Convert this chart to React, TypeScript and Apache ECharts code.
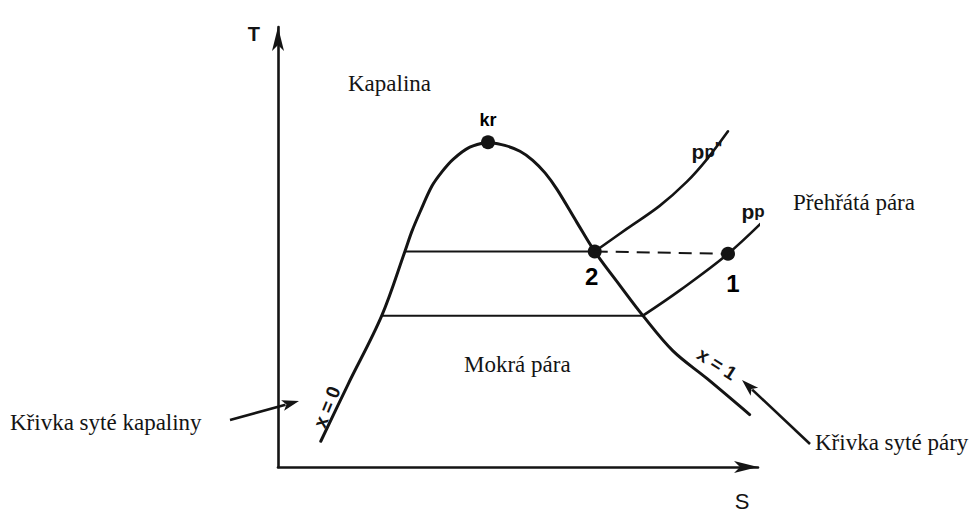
import React, { useEffect, useRef } from "react";
import * as echarts from "echarts";

const INK = "#141414";
const SERIF = '"Liberation Serif", "Times New Roman", serif';
const SANS = '"Liberation Sans", Arial, sans-serif';

// Axis ranges (entropy s, temperature T), arbitrary units
const S_MAX = 97.6;
const T_MAX = 97.4;

// Saturated liquid line (x = 0), from the bottom up to the critical point
const liquidLine: [number, number][] = [
  [8.7, 5.7], [14.2, 18.2], [21.1, 33.5], [25.8, 47.7], [27.2, 52.1],
  [28.9, 56.5], [31.3, 62.2], [33.3, 65.3], [35.6, 68.1], [39.0, 70.8], [42.7, 71.9],
];

// Saturated vapour line (x = 1), from the critical point down
const vapourLine: [number, number][] = [
  [42.7, 71.9], [46.1, 71.2], [49.2, 69.9], [51.8, 67.9], [54.3, 65.1], [56.7, 61.5],
  [60.8, 54.1], [64.4, 47.7], [69.5, 40.2], [74.2, 33.5], [80.3, 25.7], [87.2, 19.6], [95.9, 11.6],
];

// Isobar p_p'' : evaporation inside the dome, then superheating from point 2
const upperWet: [number, number][] = [[25.8, 47.7], [64.4, 47.7]];
const upperSuper: [number, number][] = [
  [64.4, 47.7], [70.9, 52.7], [77.6, 57.8], [83.1, 63.1], [87.2, 68.1], [91.5, 74.3],
];

// Isobar p_p : evaporation inside the dome, then superheating through point 1
const lowerWet: [number, number][] = [[21.1, 33.5], [74.2, 33.5]];
const lowerSuper: [number, number][] = [[74.2, 33.5], [81.7, 39.1], [91.5, 47.2], [100.4, 56.3]];

// Isotherm from point 2 to point 1 (dashed)
const isotherm: [number, number][] = [[64.4, 47.7], [91.5, 47.2]];

// Marked states
const stateNames = ["kr", "2", "1"];
const stateS = [42.7, 64.4, 91.5];
const stateT = [71.9, 47.7, 47.2];

function arrowShapes(x1: number, y1: number, x2: number, y2: number) {
  const dx = x2 - x1;
  const dy = y2 - y1;
  const len = Math.hypot(dx, dy);
  const ux = dx / len;
  const uy = dy / len;
  const L = 17;
  const W = 5.5;
  const bx = x2 - ux * L;
  const by = y2 - uy * L;
  return [
    {
      type: "line",
      silent: true,
      shape: { x1, y1, x2: bx + ux * 3, y2: by + uy * 3 },
      style: { stroke: INK, lineWidth: 2.6 },
    },
    {
      type: "polygon",
      silent: true,
      shape: {
        points: [
          [x2, y2],
          [bx - uy * W, by + ux * W],
          [bx + ux * 4, by + uy * 4],
          [bx + uy * W, by - ux * W],
        ],
      },
      style: { fill: INK },
    },
  ];
}

function curve(name: string, data: [number, number][], width: number, smooth: number | boolean, extra: any = {}) {
  return {
    name,
    type: "line",
    data,
    smooth,
    showSymbol: false,
    silent: true,
    lineStyle: { color: INK, width, cap: "round", join: "round" },
    ...extra,
  };
}

export default function App() {
  const ref = useRef<HTMLDivElement>(null);

  useEffect(() => {
    if (!ref.current) return;
    const chart = echarts.init(ref.current, undefined, { renderer: "svg" });

    const axisLine = {
      show: true,
      symbol: ["none", "arrow"],
      symbolSize: [9, 24],
      lineStyle: { color: INK, width: 2.6 },
    };

    const regionText = (text: string, x: number, y: number) => ({
      type: "text",
      silent: true,
      x,
      y,
      style: {
        text,
        fill: INK,
        font: `23px ${SERIF}`,
        align: "left",
        verticalAlign: "middle",
      },
    });

    chart.setOption({
      animation: false,
      backgroundColor: "#ffffff",
      grid: { left: 278, right: 219, top: 27, bottom: 42 },
      xAxis: {
        type: "value",
        min: 0,
        max: S_MAX,
        name: "S",
        nameLocation: "end",
        nameGap: -16,
        nameTextStyle: {
          color: INK,
          fontFamily: SANS,
          fontSize: 22,
          align: "center",
          verticalAlign: "top",
          padding: [23, 0, 0, 0],
        },
        axisLine,
        axisTick: { show: false },
        axisLabel: { show: false },
        splitLine: { show: false },
      },
      yAxis: {
        type: "value",
        min: 0,
        max: T_MAX,
        name: "T",
        nameLocation: "end",
        nameGap: -7,
        nameTextStyle: {
          color: INK,
          fontFamily: SANS,
          fontWeight: "bold",
          fontSize: 20,
          align: "right",
          verticalAlign: "middle",
          padding: [0, 18, 0, 0],
        },
        axisLine,
        axisTick: { show: false },
        axisLabel: { show: false },
        splitLine: { show: false },
      },
      series: [
        curve("x = 0", liquidLine, 3, 0.35),
        curve("x = 1", vapourLine, 3, 0.35),
        curve("p_p'' wet", upperWet, 2, false),
        curve("p_p''", upperSuper, 2.6, 0.35),
        curve("p_p wet", lowerWet, 2, false),
        curve("p_p", lowerSuper, 2.6, 0.35, { clip: false }),
        curve("isotherm", isotherm, 2, false, {
          lineStyle: { color: INK, width: 2, type: [13, 8] },
        }),
        {
          name: "states",
          type: "scatter",
          silent: true,
          symbol: "circle",
          symbolSize: 14,
          itemStyle: { color: INK, opacity: 1 },
          data: stateNames.map((n, i) => {
            const label =
              i === 0
                ? { position: "top", distance: 6, fontSize: 18, fontWeight: "bold" }
                : i === 1
                ? { position: "bottom", distance: 6, fontSize: 24, offset: [-3, 0] }
                : { position: "bottom", distance: 11, fontSize: 24, offset: [5, 0] };
            return {
              name: n,
              value: [stateS[i], stateT[i]],
              label: {
                show: true,
                formatter: "{b}",
                color: "#000",
                opacity: 1,
                fontFamily: SANS,
                fontWeight: "bold",
                ...label,
              },
            };
          }),
        },
      ],
      graphic: [
        regionText("Kapalina", 348, 83),
        regionText("Mokrá pára", 464, 364),
        regionText("Přehřátá pára", 793, 202),
        regionText("Křivka syté kapaliny", 10, 422),
        regionText("Křivka syté páry", 815, 442),
        ...arrowShapes(230, 420, 299, 401),
        ...arrowShapes(810, 444, 742, 380),
        {
          type: "text",
          silent: true,
          x: 327,
          y: 407,
          rotation: (68 * Math.PI) / 180,
          style: {
            text: "x = 0",
            fill: INK,
            font: `bold 19px ${SANS}`,
            align: "center",
            verticalAlign: "middle",
          },
        },
        {
          type: "text",
          silent: true,
          x: 717,
          y: 364,
          rotation: (-33 * Math.PI) / 180,
          style: {
            text: "x = 1",
            fill: INK,
            font: `bold 19px ${SANS}`,
            align: "center",
            verticalAlign: "middle",
          },
        },
        {
          type: "text",
          silent: true,
          x: 753,
          y: 211,
          style: {
            text: "{a|p}{b|p}",
            align: "center",
            verticalAlign: "middle",
            rich: {
              a: { fill: INK, fontFamily: SANS, fontWeight: "bold", fontSize: 21 },
              b: { fill: INK, fontFamily: SANS, fontWeight: "bold", fontSize: 17 },
            },
          },
        },
        {
          type: "text",
          silent: true,
          x: 707,
          y: 151,
          style: {
            text: '{a|p}{b|p}{c|"}',
            align: "center",
            verticalAlign: "middle",
            rich: {
              a: { fill: INK, fontFamily: SANS, fontWeight: "bold", fontSize: 21 },
              b: { fill: INK, fontFamily: SANS, fontWeight: "bold", fontSize: 17 },
              c: { fill: INK, fontFamily: SANS, fontWeight: "bold", fontSize: 16, verticalAlign: "top" },
            },
          },
        },
      ],
    });

    return () => chart.dispose();
  }, []);

  return (
    <div
      ref={ref}
      style={{ position: "fixed", left: 0, top: 0, width: 977, height: 512, background: "#fff" }}
    />
  );
}
